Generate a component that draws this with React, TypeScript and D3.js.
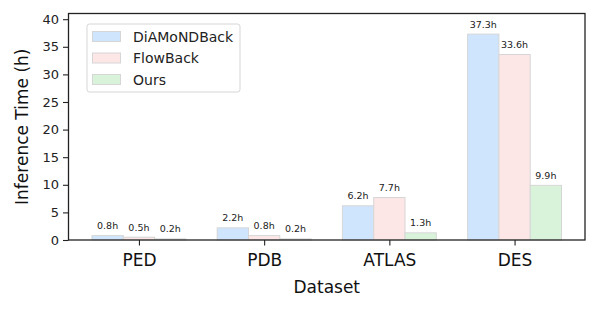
import React, { useEffect, useRef } from "react";
import * as d3 from "d3";

const categories = ["PED", "PDB", "ATLAS", "DES"];
const seriesNames = ["DiAMoNDBack", "FlowBack", "Ours"];
const diamondback = [0.8, 2.2, 6.2, 37.3];
const flowback = [0.5, 0.8, 7.7, 33.6];
const ours = [0.2, 0.2, 1.3, 9.9];
const yTicks = [0, 5, 10, 15, 20, 25, 30, 35, 40];
const colors = ["#cfe5fd", "#fde6e6", "#d9f3da"];

const App = () => {
  const svgRef = useRef(null);

  useEffect(() => {
    const width = 598;
    const height = 309;
    const margin = { left: 68.5, top: 13.5, right: 13, bottom: 69 };
    const font = "DejaVu Sans, sans-serif";

    const svg = d3.select(svgRef.current)
      .attr("width", width)
      .attr("height", height);
    svg.selectAll("*").remove();

    const series = [diamondback, flowback, ours];
    const maxVal = d3.max(diamondback.concat(flowback, ours));

    const x = d3.scaleLinear()
      .domain([-0.5625, categories.length - 1 + 0.5625])
      .range([margin.left, width - margin.right]);
    const y = d3.scaleLinear()
      .domain([0, maxVal * 1.1])
      .range([height - margin.bottom, margin.top]);
    const barW = x(0.25) - x(0);

    // bars + value labels
    series.forEach((vals, s) => {
      const off = (s - 1) * 0.25;
      const g = svg.append("g");
      g.selectAll("rect")
        .data(vals)
        .join("rect")
        .attr("x", (d, i) => x(i + off) - barW / 2)
        .attr("y", d => y(d))
        .attr("width", barW)
        .attr("height", d => y(0) - y(d))
        .attr("fill", colors[s])
        .attr("stroke", "#d6d6d6")
        .attr("stroke-width", 1);
      g.selectAll("text")
        .data(vals)
        .join("text")
        .attr("x", (d, i) => x(i + off))
        .attr("y", d => y(d) - 6.5)
        .attr("text-anchor", "middle")
        .attr("font-family", font)
        .attr("font-size", 9.5)
        .attr("fill", "#222")
        .text(d => d.toFixed(1) + "h");
    });

    // frame
    svg.append("rect")
      .attr("x", margin.left)
      .attr("y", margin.top)
      .attr("width", width - margin.right - margin.left)
      .attr("height", height - margin.bottom - margin.top)
      .attr("fill", "none")
      .attr("stroke", "#222")
      .attr("stroke-width", 1.3);

    // y axis
    const yAxis = svg.append("g")
      .attr("transform", `translate(${margin.left},0)`)
      .call(d3.axisLeft(y).tickValues(yTicks).tickSize(5.5).tickPadding(4));
    yAxis.select(".domain").remove();
    yAxis.selectAll("line").attr("stroke", "#222").attr("stroke-width", 1.1);
    yAxis.selectAll("text")
      .attr("font-family", font)
      .attr("font-size", 13)
      .attr("fill", "#222");

    // x axis
    const xAxis = svg.append("g")
      .attr("transform", `translate(0,${height - margin.bottom})`)
      .call(d3.axisBottom(x).tickValues(d3.range(categories.length))
        .tickFormat(i => categories[i]).tickSize(5.5).tickPadding(8.5));
    xAxis.select(".domain").remove();
    xAxis.selectAll("line").attr("stroke", "#222").attr("stroke-width", 1.1);
    xAxis.selectAll("text")
      .attr("font-family", font)
      .attr("font-size", 17)
      .attr("fill", "#111");

    svg.append("text")
      .attr("x", (margin.left + width - margin.right) / 2)
      .attr("y", 293)
      .attr("text-anchor", "middle")
      .attr("font-family", font)
      .attr("font-size", 17)
      .attr("fill", "#111")
      .text("Dataset");

    svg.append("text")
      .attr("transform", `translate(28,${(margin.top + height - margin.bottom) / 2}) rotate(-90)`)
      .attr("text-anchor", "middle")
      .attr("font-family", font)
      .attr("font-size", 17)
      .attr("fill", "#111")
      .text("Inference Time (h)");

    // legend
    const leg = svg.append("g").attr("transform", "translate(87,24)");
    leg.append("rect")
      .attr("width", 153)
      .attr("height", 68)
      .attr("rx", 2.5)
      .attr("fill", "white")
      .attr("fill-opacity", 0.8)
      .attr("stroke", "#d5d5d5");
    seriesNames.forEach((name, s) => {
      const cy = 12.5 + s * 21.5;
      leg.append("rect")
        .attr("x", 5.5)
        .attr("y", cy - 5)
        .attr("width", 28)
        .attr("height", 10)
        .attr("fill", colors[s])
        .attr("stroke", "#d6d6d6");
      leg.append("text")
        .attr("x", 46)
        .attr("y", cy + 5)
        .attr("font-family", font)
        .attr("font-size", 14)
        .attr("fill", "#222")
        .text(name);
    });
  }, []);

  return (
    <svg ref={svgRef} style={{ display: "block", position: "absolute", left: 0, top: 0, background: "white" }} />
  );
};

export default App;
